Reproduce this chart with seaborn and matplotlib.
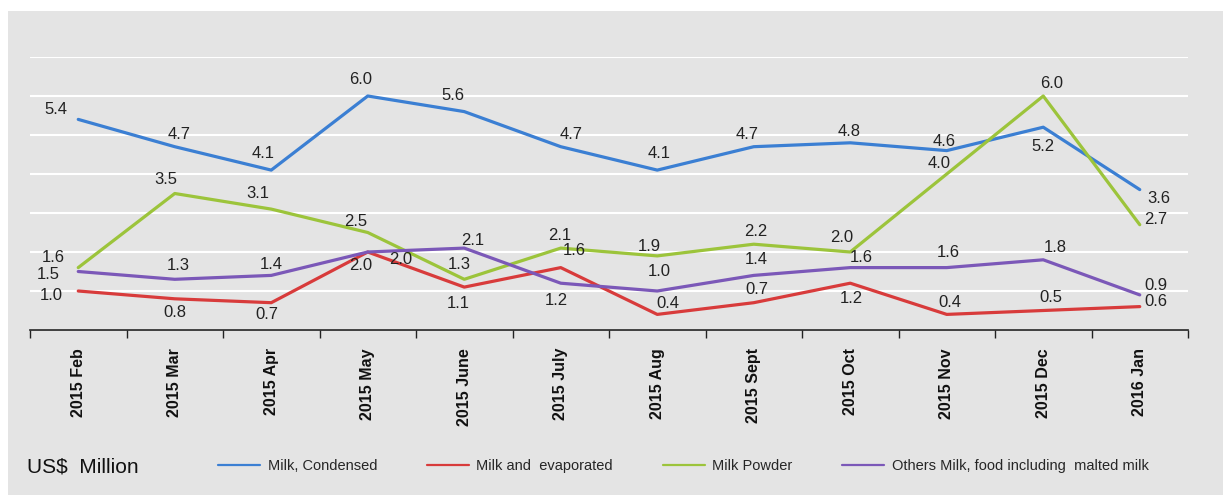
# Monthly milk product values (US$ Million), Feb 2015 - Jan 2016
import pandas as pd
import matplotlib
matplotlib.use('Agg')
import matplotlib.pyplot as plt
import seaborn as sns
from matplotlib.patches import Rectangle

months = ['2015 Feb', '2015 Mar', '2015 Apr', '2015 May', '2015 June', '2015 July',
          '2015 Aug', '2015 Sept', '2015 Oct', '2015 Nov', '2015 Dec', '2016 Jan']
condensed = [5.4, 4.7, 4.1, 6.0, 5.6, 4.7, 4.1, 4.7, 4.8, 4.6, 5.2, 3.6]
evaporated = [1.0, 0.8, 0.7, 2.0, 1.1, 1.6, 0.4, 0.7, 1.2, 0.4, 0.5, 0.6]
powder = [1.6, 3.5, 3.1, 2.5, 1.3, 2.1, 1.9, 2.2, 2.0, 4.0, 6.0, 2.7]
others = [1.5, 1.3, 1.4, 2.0, 2.1, 1.2, 1.0, 1.4, 1.6, 1.6, 1.8, 0.9]

series_names = ['Milk, Condensed', 'Milk and  evaporated', 'Milk Powder',
                'Others Milk, food including  malted milk']
series_values = [condensed, evaporated, powder, others]
colors = ['#3b7fd3', '#d83b3b', '#9cc43b', '#7b58b8']

# label offsets in pixels (dx, dy) from each point, as placed in the original
label_offsets = [
    [(-22, 10), (4, 12), (-8, 17), (-7, 17), (-11, 16), (10, 12), (2, 17), (-7, 12),
     (-1, 11), (-3, 9), (0, -19), (19, -9)],
    [(-27, -4), (0, -14), (-4, -12), (-7, -13), (-6, -16), (13, 17), (11, 11), (3, 13),
     (1, -15), (3, 12), (8, 13), (16, 5)],
    [(-25, 10), (-9, 14), (-13, 16), (-12, 11), (-5, 15), (-1, 13), (-8, 9), (2, 13),
     (-9, 14), (-8, 10), (8, 12), (16, 5)],
    [(-30, -3), (3, 14), (0, 11), (33, -7), (8, 8), (-4, -17), (2, 19), (3, 16),
     (11, 10), (2, 15), (12, 12), (16, 9)],
]

rows = []
for name, vals in zip(series_names, series_values):
    for i, v in enumerate(vals):
        rows.append({'idx': i, 'value': v, 'series': name})
df = pd.DataFrame(rows)

sns.set_style('white')
plt.rcParams['font.family'] = ['Liberation Sans', 'DejaVu Sans']

fig = plt.figure(figsize=(12.23, 4.95), dpi=100)
fig.patches.append(Rectangle((8 / 1223, 0), 1, 1 - 11 / 495, transform=fig.transFigure,
                             facecolor='#e4e4e4', edgecolor='none', zorder=-10))
ax = fig.add_axes([30 / 1223, 1 - 330 / 495, (1188 - 30) / 1223, (330 - 57) / 495])
ax.set_facecolor('none')
ax.patch.set_alpha(0)

sns.lineplot(data=df, x='idx', y='value', hue='series', palette=colors,
             hue_order=series_names, linewidth=2.3, sort=False, ax=ax, legend=True)

for vals, offs in zip(series_values, label_offsets):
    for i, (v, (dx, dy)) in enumerate(zip(vals, offs)):
        ax.annotate(f'{v:.1f}', (i, v), xytext=(dx, dy), textcoords='offset pixels',
                    ha='center', va='center', fontsize=12, color='#222222')

ax.set_xlim(-0.5, len(months) - 0.5)
ax.set_ylim(0, 7)
ax.set_yticks(range(0, 8))
ax.yaxis.grid(True, color='white', linewidth=1.5)
ax.set_axisbelow(True)
ax.tick_params(axis='y', left=False, labelleft=False)

ax.set_xticks(range(len(months)))
ax.set_xticklabels(months, rotation=90, fontweight='bold', fontsize=11.5, color='#111111')
ax.set_xticks([i - 0.5 for i in range(len(months) + 1)], minor=True)
ax.tick_params(axis='x', which='major', length=0, pad=13)
ax.tick_params(axis='x', which='minor', bottom=True, length=6, width=1, color='#222222',
               direction='out')

for side in ['top', 'left', 'right']:
    ax.spines[side].set_visible(False)
ax.spines['bottom'].set_color('#222222')
ax.spines['bottom'].set_linewidth(1.2)
ax.set_xlabel('')
ax.set_ylabel('')

handles, labels = ax.get_legend_handles_labels()
ax.get_legend().remove()
for h in handles:
    h.set_linewidth(1.6)
fig.legend(handles, labels, loc='center left', bbox_to_anchor=(205 / 1223, 1 - 466 / 495),
           ncol=4, frameon=False, fontsize=10.5, handlelength=2.9, handletextpad=0.5,
           columnspacing=3.4)
fig.text(27 / 1223, 1 - 467 / 495, 'US$  Million', fontsize=15, va='center', ha='left',
         color='#111111')

fig.savefig('out.png', dpi=100)
